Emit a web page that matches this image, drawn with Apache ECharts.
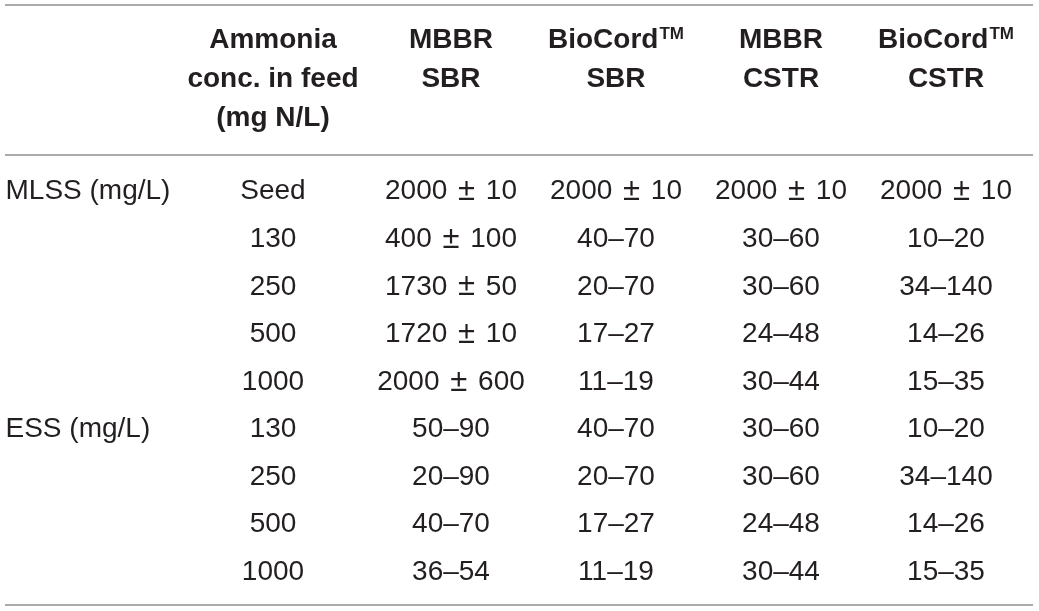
<!DOCTYPE html>
<html>
<head>
<meta charset="utf-8">
</head>
<body style="margin:0;width:1039px;height:611px;background:#fff">
<div id="container" style="width:1039px;height:611px"></div>
<script src="https://cdn.jsdelivr.net/npm/echarts@6/dist/echarts.min.js"></script>
<script>
// column headers (sup = superscript TM)
var headers = [
  [''],
  ['Ammonia', 'conc. in feed', '(mg N/L)'],
  ['MBBR', 'SBR'],
  ['BioCord{sup|TM}', 'SBR'],
  ['MBBR', 'CSTR'],
  ['BioCord{sup|TM}', 'CSTR']
];
var measures = ['MLSS (mg/L)', '', '', '', '', 'ESS (mg/L)', '', '', ''];
var feedConc = ['Seed', '130', '250', '500', '1000', '130', '250', '500', '1000'];
var mbbrSbr = ['2000 \u00b1 10', '400 \u00b1 100', '1730 \u00b1 50', '1720 \u00b1 10', '2000 \u00b1 600', '50\u201390', '20\u201390', '40\u201370', '36\u201354'];
var biocordSbr = ['2000 \u00b1 10', '40\u201370', '20\u201370', '17\u201327', '11\u201319', '40\u201370', '20\u201370', '17\u201327', '11\u201319'];
var mbbrCstr = ['2000 \u00b1 10', '30\u201360', '30\u201360', '24\u201348', '30\u201344', '30\u201360', '30\u201360', '24\u201348', '30\u201344'];
var biocordCstr = ['2000 \u00b1 10', '10\u201320', '34\u2013140', '14\u201326', '15\u201335', '10\u201320', '34\u2013140', '14\u201326', '15\u201335'];

var columnData = [measures, feedConc, mbbrSbr, biocordSbr, mbbrCstr, biocordCstr];
var colIds = ['c0', 'c1', 'c2', 'c3', 'c4', 'c5'];
var rowIds = measures.map(function (m, i) { return 'r' + i; });

var textColor = '#231f20';
var ruleColor = '#8e8e8e';

var bodyCells = [];
columnData.forEach(function (col, j) {
  col.forEach(function (txt, i) {
    bodyCells.push([colIds[j], rowIds[i], txt]);
  });
});
var headCells = headers.map(function (h, j) { return [colIds[j], 'head', h.join('\n')]; });

// first column is left aligned, second one sits a bit left of its band centre
function cellX(col, p, bw) {
  if (col === 0) return { x: p[0] - bw / 2 - 33, align: 'left' };
  if (col === 1) return { x: p[0] - 13, align: 'center' };
  return { x: p[0], align: 'center' };
}

var dom = document.getElementById('container');
var myChart = echarts.init(dom);

var option = {
  backgroundColor: '#fff',
  animation: false,
  grid: [
    { left: 38.5, width: 990, top: 167, height: 428 },
    { left: 38.5, width: 990, top: 21, height: 120 }
  ],
  xAxis: [
    { type: 'category', gridIndex: 0, data: colIds, show: false },
    { type: 'category', gridIndex: 1, data: colIds, show: false }
  ],
  yAxis: [
    { type: 'category', gridIndex: 0, data: rowIds, inverse: true, show: false },
    { type: 'category', gridIndex: 1, data: ['head'], show: false }
  ],
  graphic: [
    { type: 'line', shape: { x1: 5, y1: 5, x2: 1033, y2: 5 }, style: { stroke: ruleColor, lineWidth: 1.5 } },
    { type: 'line', shape: { x1: 5, y1: 155, x2: 1033, y2: 155 }, style: { stroke: ruleColor, lineWidth: 1.5 } },
    { type: 'line', shape: { x1: 5, y1: 605, x2: 1033, y2: 605 }, style: { stroke: ruleColor, lineWidth: 1.5 } }
  ],
  series: [
    {
      type: 'custom',
      xAxisIndex: 0,
      yAxisIndex: 0,
      data: bodyCells,
      renderItem: function (params, api) {
        var cell = bodyCells[params.dataIndex];
        var col = colIds.indexOf(cell[0]);
        var p = api.coord([cell[0], cell[1]]);
        var bw = api.size([1, 0])[0];
        var pos = cellX(col, p, bw);
        return {
          type: 'text',
          style: {
            x: pos.x,
            y: p[1] + 1,
            // the plus-minus sign is set a bit larger and wider, as in the original
            text: cell[2].replace(' \u00b1 ', ' {pm|\u00b1} '),
            align: pos.align,
            verticalAlign: 'middle',
            fontFamily: 'Liberation Sans',
            fontSize: 28,
            fill: textColor,
            rich: {
              pm: {
                fontFamily: 'Liberation Sans',
                fontSize: 31,
                padding: [0, 3],
                fill: textColor
              }
            }
          }
        };
      }
    },
    {
      type: 'custom',
      xAxisIndex: 1,
      yAxisIndex: 1,
      data: headCells,
      renderItem: function (params, api) {
        var cell = headCells[params.dataIndex];
        var col = colIds.indexOf(cell[0]);
        var p = api.coord([cell[0], cell[1]]);
        var size = api.size([1, 1]);
        var pos = cellX(col, p, size[0]);
        return {
          type: 'text',
          style: {
            x: pos.x,
            y: p[1] - size[1] / 2,
            text: cell[2],
            align: pos.align,
            verticalAlign: 'top',
            fontFamily: 'Liberation Sans',
            fontWeight: 'bold',
            fontSize: 28,
            lineHeight: 39,
            fill: textColor,
            rich: {
              sup: {
                fontFamily: 'Liberation Sans',
                fontWeight: 'bold',
                fontSize: 17,
                lineHeight: 39,
                verticalAlign: 'top',
                padding: [5, 0, 0, 1],
                fill: textColor
              }
            }
          }
        };
      }
    }
  ]
};
myChart.setOption(option, true);
</script>
</body>
</html>
